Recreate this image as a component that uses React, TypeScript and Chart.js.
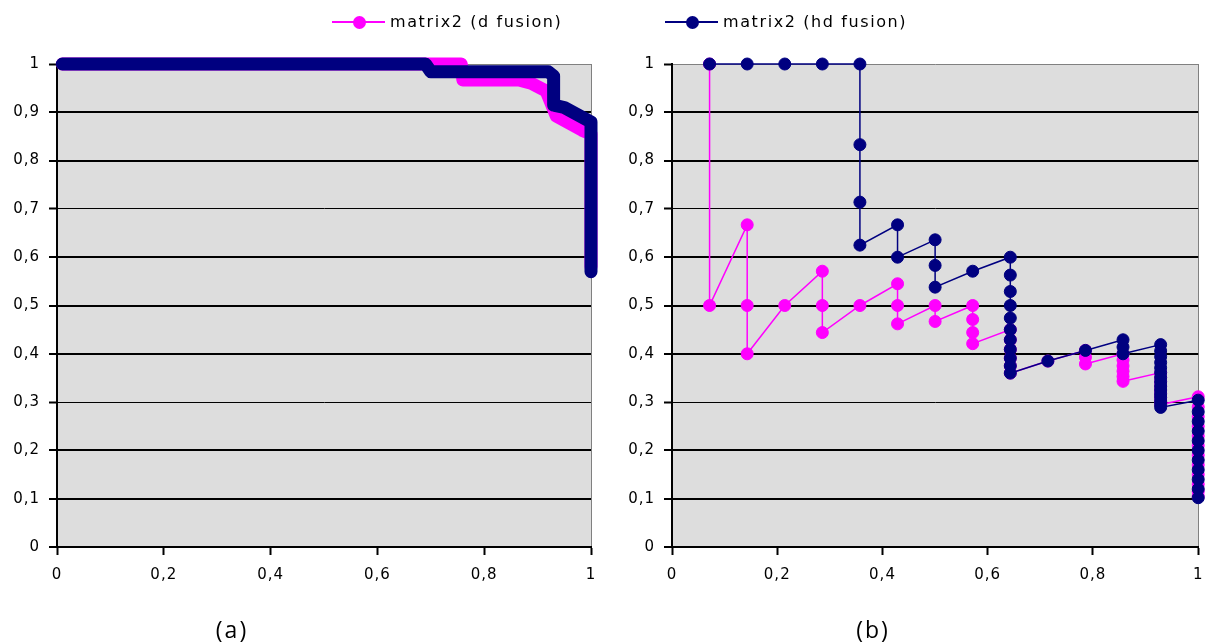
import React, { useEffect, useRef } from 'react';
import { Chart, registerables } from 'chart.js';

Chart.register(...registerables);

// ---------- data ----------
const seriesNames = ['matrix2 (d fusion)', 'matrix2 (hd fusion)'];
const panelLabels = ['(a)', '(b)'];
const xTickLabels = ['0', '0,2', '0,4', '0,6', '0,8', '1'];
const yTickLabels = ['0', '0,1', '0,2', '0,3', '0,4', '0,5', '0,6', '0,7', '0,8', '0,9', '1'];

// panel (a): recall / precision outline of the dense curves
const dRecallA = [0.01, 0.757, 0.76, 0.865, 0.888, 0.916, 0.935, 0.983, 1, 1];
const dPrecisionA = [1, 1, 0.967, 0.967, 0.96, 0.944, 0.892, 0.863, 0.855, 0.58];
const hdRecallA = [0.01, 0.69, 0.7, 0.92, 0.93, 0.93, 0.95, 1, 1];
const hdPrecisionA = [1, 1, 0.984, 0.984, 0.975, 0.915, 0.91, 0.88, 0.57];

// panel (b): recall levels and the precision values read at each level
const recallLevelsB = [0.0714, 0.1429, 0.2143, 0.2857, 0.3571, 0.4286, 0.5, 0.5714, 0.6429, 0.7143, 0.7857, 0.8571, 0.9286, 1];
const dPrecisionB = [
  [1, 0.5],
  [0.667, 0.5, 0.4],
  [0.5],
  [0.571, 0.5, 0.444],
  [0.5],
  [0.545, 0.5, 0.462],
  [0.5, 0.467],
  [0.5, 0.471, 0.444, 0.421],
  [0.45, 0.429, 0.409, 0.391, 0.375, 0.36],
  [0.385],
  [0.407, 0.393, 0.379],
  [0.4, 0.387, 0.375, 0.364, 0.353, 0.343],
  [0.361, 0.351, 0.342, 0.333, 0.325, 0.317, 0.31, 0.302, 0.295],
  [0.311, 0.29, 0.27, 0.25, 0.23, 0.21, 0.19, 0.17, 0.15, 0.13, 0.115, 0.105],
];
const hdPrecisionB = [
  [1],
  [1],
  [1],
  [1],
  [1, 0.833, 0.714, 0.625],
  [0.667, 0.6],
  [0.636, 0.583, 0.538],
  [0.571],
  [0.6, 0.563, 0.529, 0.5, 0.474, 0.45, 0.429, 0.409, 0.391, 0.375, 0.36],
  [0.385],
  [0.407],
  [0.429, 0.414, 0.4],
  [0.419, 0.406, 0.394, 0.382, 0.371, 0.361, 0.351, 0.342, 0.333, 0.325, 0.317, 0.31, 0.302, 0.295, 0.289],
  [0.304, 0.28, 0.26, 0.24, 0.22, 0.2, 0.18, 0.16, 0.14, 0.12, 0.102],
];

// ---------- styles ----------
const PINK = '#FF00FF';
const NAVY = '#000080';
const PLOT_BG = '#DDDDDD';
const TICK_FONT = { family: 'DejaVu Sans', size: 15 };
const Y_GRID_WIDTHS = [2, 2, 2, 1, 2, 2, 2, 1, 2, 2, 1];

const toPoints = (xs: number[], ys: number[]) => xs.map((x, i) => ({ x, y: ys[i] }));
const levelPoints = (levels: number[], groups: number[][]) =>
  levels.flatMap((x, i) => groups[i].map((y) => ({ x, y })));

const plotBackground = {
  id: 'plotBackground',
  beforeDraw(chart: any) {
    const { ctx, chartArea: a } = chart;
    ctx.save();
    ctx.fillStyle = PLOT_BG;
    ctx.fillRect(a.left, a.top, a.right - a.left, a.bottom - a.top);
    ctx.restore();
    (ctx as any).letterSpacing = '1px';
  },
};

function makeOptions(yAxisWidth: number, padRight: number) {
  return {
    responsive: false,
    animation: false,
    events: [],
    layout: { padding: { top: 64, right: padRight, bottom: 46, left: 0 } },
    plugins: { legend: { display: false }, tooltip: { enabled: false } },
    scales: {
      x: {
        type: 'linear',
        min: 0,
        max: 1,
        afterFit: (s: any) => {
          s.height = 50;
        },
        ticks: {
          stepSize: 0.2,
          autoSkip: false,
          maxRotation: 0,
          padding: 11,
          color: '#000',
          font: TICK_FONT,
          callback: (_v: any, i: number) => xTickLabels[i],
        },
        grid: {
          color: (c: any) => (c.index === xTickLabels.length - 1 ? '#808080' : 'rgba(0,0,0,0)'),
          lineWidth: 1,
          tickLength: 8,
          tickColor: '#000',
          tickWidth: 2,
        },
        border: { color: '#000', width: 2 },
      },
      y: {
        type: 'linear',
        min: 0,
        max: 1,
        afterFit: (s: any) => {
          s.width = yAxisWidth;
        },
        ticks: {
          stepSize: 0.1,
          padding: 9,
          color: '#000',
          font: TICK_FONT,
          callback: (_v: any, i: number) => yTickLabels[i],
        },
        grid: {
          color: (c: any) => (c.index === yTickLabels.length - 1 ? '#808080' : '#000'),
          lineWidth: (c: any) => Y_GRID_WIDTHS[c.index] ?? 1,
          tickLength: 8,
          tickColor: '#000',
          tickWidth: 2,
        },
        border: { color: '#000', width: 2 },
      },
    },
  };
}

function denseDataset(label: string, data: any[], color: string, order: number) {
  return {
    label,
    data,
    showLine: true,
    borderColor: color,
    backgroundColor: color,
    borderWidth: 13,
    borderCapStyle: 'round',
    borderJoinStyle: 'round',
    pointRadius: 0,
    clip: false,
    order,
  };
}

function markerDataset(label: string, data: any[], color: string, order: number) {
  return {
    label,
    data,
    showLine: true,
    borderColor: color,
    backgroundColor: color,
    borderWidth: 1.5,
    pointRadius: 6,
    pointBorderWidth: 1,
    pointBackgroundColor: color,
    pointBorderColor: color,
    clip: false,
    order,
  };
}

function LegendItem({ left, color, text }: { left: number; color: string; text: string }) {
  return (
    <div style={{ position: 'absolute', left, top: 8, height: 28 }}>
      <div style={{ position: 'absolute', left: 0, top: 13, width: 53, height: 2, background: color }} />
      <div
        style={{
          position: 'absolute',
          left: 27 - 6.5,
          top: 14 - 6.5,
          width: 13,
          height: 13,
          borderRadius: '50%',
          background: color,
        }}
      />
      <div
        style={{
          position: 'absolute',
          left: 58,
          top: 4,
          whiteSpace: 'nowrap',
          font: '16px "DejaVu Sans"',
          letterSpacing: '1.6px',
          lineHeight: '19px',
          color: '#000',
        }}
      >
        {text}
      </div>
    </div>
  );
}

export default function App() {
  const leftRef = useRef<HTMLCanvasElement>(null);
  const rightRef = useRef<HTMLCanvasElement>(null);

  useEffect(() => {
    const chartA = new Chart(leftRef.current as HTMLCanvasElement, {
      type: 'scatter',
      data: {
        datasets: [
          denseDataset(seriesNames[0], toPoints(dRecallA, dPrecisionA), PINK, 1),
          denseDataset(seriesNames[1], toPoints(hdRecallA, hdPrecisionA), NAVY, 0),
        ],
      },
      options: makeOptions(57, 16) as any,
      plugins: [plotBackground],
    } as any);
    const chartB = new Chart(rightRef.current as HTMLCanvasElement, {
      type: 'scatter',
      data: {
        datasets: [
          markerDataset(seriesNames[0], levelPoints(recallLevelsB, dPrecisionB), PINK, 1),
          markerDataset(seriesNames[1], levelPoints(recallLevelsB, hdPrecisionB), NAVY, 0),
        ],
      },
      options: makeOptions(65, 7) as any,
      plugins: [plotBackground],
    } as any);
    return () => {
      chartA.destroy();
      chartB.destroy();
    };
  }, []);

  const panelLabelStyle = (cx: number): React.CSSProperties => ({
    position: 'absolute',
    left: cx - 50,
    width: 100,
    top: 614,
    textAlign: 'center',
    font: '23px "Open Sans"',
    letterSpacing: '2px',
    lineHeight: '30px',
    color: '#000',
  });

  return (
    <div style={{ position: 'fixed', left: 0, top: 0, width: 1214, height: 643, background: '#fff', overflow: 'hidden' }}>
      <canvas ref={leftRef} width={607} height={643} style={{ position: 'absolute', left: 0, top: 0 }} />
      <canvas ref={rightRef} width={607} height={643} style={{ position: 'absolute', left: 607, top: 0 }} />
      <LegendItem left={332} color={PINK} text={seriesNames[0]} />
      <LegendItem left={665} color={NAVY} text={seriesNames[1]} />
      <div style={panelLabelStyle(232)}>{panelLabels[0]}</div>
      <div style={panelLabelStyle(873)}>{panelLabels[1]}</div>
    </div>
  );
}
